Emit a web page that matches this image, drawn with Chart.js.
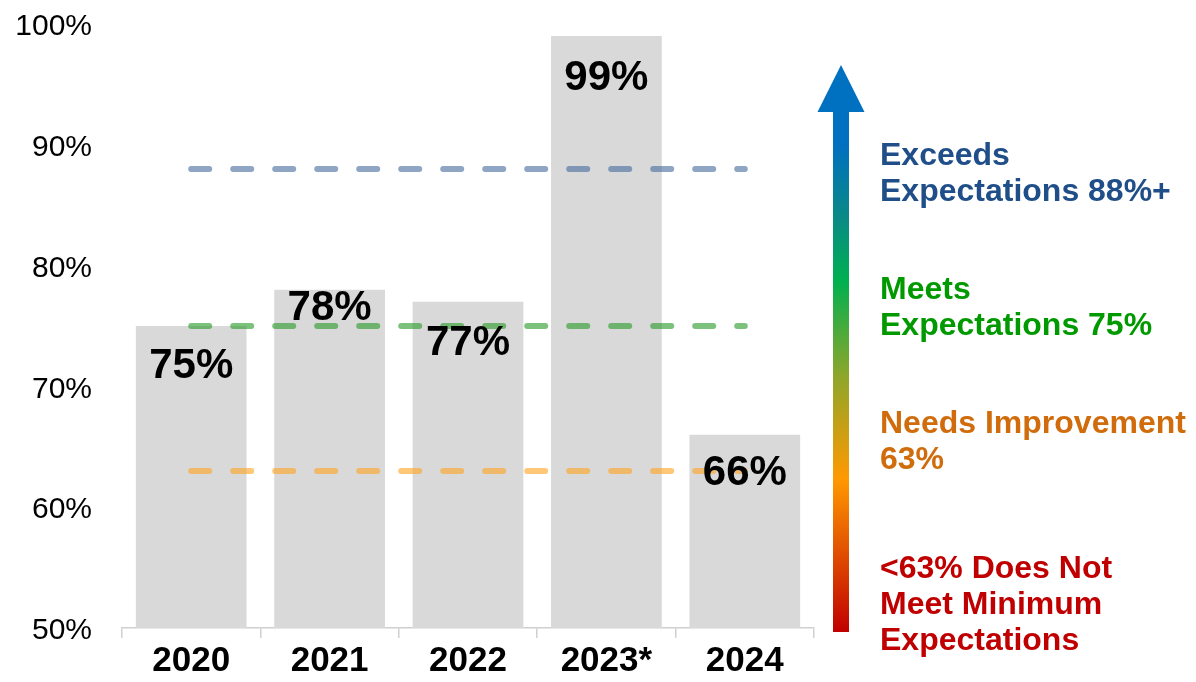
<!DOCTYPE html>
<html>
<head>
<meta charset="utf-8">
<script src="https://cdn.jsdelivr.net/npm/chart.js@4"></script>
<style>
  body { margin: 0; background: #fff; }
  #wrap { width: 1196px; height: 682px; position: relative; }
</style>
</head>
<body>
<div id="wrap"><canvas id="chart"></canvas></div>
<script>
const years = ['2020', '2021', '2022', '2023*', '2024'];
const scores = [75, 78, 77, 99, 66];
const exceedsLevel = [88, 88, 88, 88, 88];
const meetsLevel = [75, 75, 75, 75, 75];
const needsLevel = [63, 63, 63, 63, 63];

const bandText = [
    ['Exceeds', 'Expectations 88%+'],
    ['Meets', 'Expectations 75%'],
    ['Needs Improvement', '63%'],
    ['<63% Does Not', 'Meet Minimum', 'Expectations']
];

const FONT = '"Liberation Sans", Arial, sans-serif';

// value labels sit inside the top of each bar; 2021 is lifted clear of the dashed line
const valueLabels = {
    id: 'valueLabels',
    afterDatasetsDraw(chart) {
        const nudge = [37, 15, 38, 39, 35];
        const meta = chart.getDatasetMeta(0);
        const ctx = chart.ctx;
        ctx.save();
        ctx.font = 'bold 42px ' + FONT;
        ctx.fillStyle = '#000';
        ctx.textAlign = 'center';
        ctx.textBaseline = 'alphabetic';
        meta.data.forEach(function(bar, i) {
            ctx.fillText(scores[i] + '%', bar.x, bar.y + nudge[i] + 15);
        });
        ctx.restore();
    }
};

// gradient arrow and the rating bands on the right
const ratingKey = {
    id: 'ratingKey',
    afterDraw(chart) {
        const ctx = chart.ctx;
        const cx = 841, tipY = 65, headY = 112, baseY = 632;
        const grad = ctx.createLinearGradient(0, baseY, 0, tipY);
        grad.addColorStop(0, '#C00000');
        grad.addColorStop(0.27, '#FF9900');
        grad.addColorStop(0.45, '#8FA62A');
        grad.addColorStop(0.62, '#00B050');
        grad.addColorStop(0.73, '#0A8A86');
        grad.addColorStop(0.86, '#0070C0');
        grad.addColorStop(1, '#0070C0');

        ctx.save();
        ctx.fillStyle = grad;
        ctx.beginPath();
        ctx.moveTo(cx, tipY);
        ctx.lineTo(cx + 23.5, headY);
        ctx.lineTo(cx + 8, headY);
        ctx.lineTo(cx + 8, baseY);
        ctx.lineTo(cx - 8, baseY);
        ctx.lineTo(cx - 8, headY);
        ctx.lineTo(cx - 23.5, headY);
        ctx.closePath();
        ctx.fill();

        const colors = ['#1F4E89', '#009A00', '#D06C0C', '#C00000'];
        const firstBaseline = [165, 299, 433, 578];
        ctx.font = 'bold 32px ' + FONT;
        ctx.textAlign = 'left';
        ctx.textBaseline = 'alphabetic';
        bandText.forEach(function(lines, i) {
            ctx.fillStyle = colors[i];
            lines.forEach(function(line, j) {
                ctx.fillText(line, 880, firstBaseline[i] + j * 36);
            });
        });
        ctx.restore();
    }
};

function levelLine(values, color) {
    return {
        type: 'line',
        data: values,
        borderColor: color,
        borderWidth: 6,
        borderDash: [18, 24],
        borderCapStyle: 'round',
        pointRadius: 0,
        fill: false,
        order: 0
    };
}

new Chart(document.getElementById('chart'), {
    type: 'bar',
    data: {
        labels: years,
        datasets: [
            {
                data: scores,
                backgroundColor: '#D9D9D9',
                barPercentage: 0.8,
                categoryPercentage: 1,
                order: 1
            },
            levelLine(exceedsLevel, 'rgba(67,105,157,0.6)'),
            levelLine(meetsLevel, 'rgba(37,153,37,0.6)'),
            levelLine(needsLevel, 'rgba(255,163,30,0.6)')
        ]
    },
    options: {
        responsive: true,
        maintainAspectRatio: false,
        animation: false,
        layout: {
            padding: { top: 24, right: 382, bottom: 0, left: 0 }
        },
        plugins: {
            legend: { display: false },
            tooltip: { enabled: false }
        },
        scales: {
            x: {
                afterFit(scale) { scale.height = 54; },
                border: { display: true, color: '#D0D0D0', width: 1.5 },
                grid: {
                    display: true,
                    drawOnChartArea: false,
                    drawTicks: true,
                    tickLength: 10,
                    color: '#D0D0D0',
                    lineWidth: 1.5
                },
                ticks: {
                    color: '#000',
                    padding: 2,
                    font: { family: FONT, size: 35, weight: 'bold' }
                }
            },
            y: {
                min: 50,
                max: 100,
                afterFit(scale) {
                    scale.width = 122;
                    scale.paddingTop = 0;
                    scale.paddingBottom = 0;
                },
                border: { display: false },
                grid: { display: false, drawTicks: false },
                ticks: {
                    stepSize: 10,
                    padding: 30,
                    labelOffset: 3,
                    color: '#000',
                    font: { family: FONT, size: 30 },
                    callback: function(v) { return v + '%'; }
                }
            }
        }
    },
    plugins: [valueLabels, ratingKey]
});
</script>
</body>
</html>
